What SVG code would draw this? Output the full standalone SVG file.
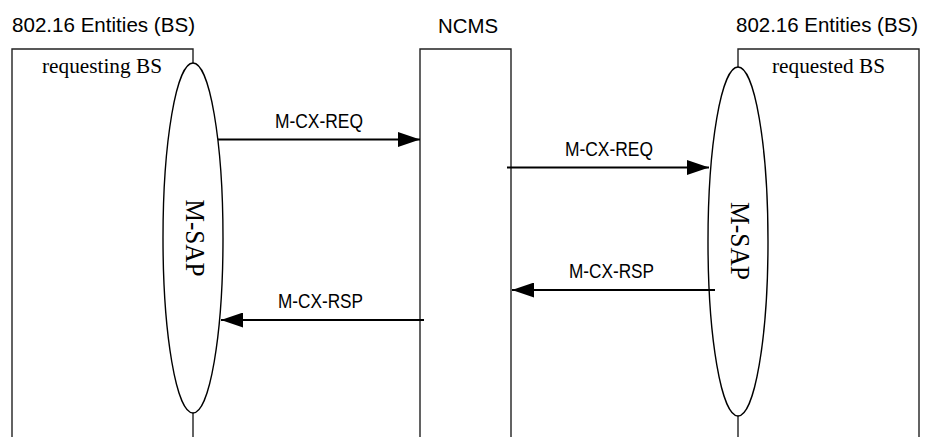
<svg xmlns="http://www.w3.org/2000/svg" width="927" height="437" viewBox="0 0 927 437">
<defs>
<style>
.hdr{font-family:"Liberation Sans",Arial,sans-serif;font-size:20.5px;fill:#000}
.ser{font-family:"Liberation Serif","Times New Roman",serif;font-size:21px;fill:#000}
.sap{font-family:"Liberation Serif","Times New Roman",serif;font-size:27px;fill:#000}
.lbl{font-family:"Liberation Sans",Arial,sans-serif;font-size:20px;fill:#000}
.box{fill:none;stroke:#222;stroke-width:1.4}
.ell{fill:#fff;stroke:#000;stroke-width:1.4}
.arr{stroke:#000;stroke-width:2.2;fill:none}
.head{fill:#000}
</style>
<marker id="ah" markerWidth="22" markerHeight="15" refX="22" refY="7.5" orient="auto" markerUnits="userSpaceOnUse">
<path d="M0,0 L22,7.5 L0,15 Z" class="head"/>
</marker>
</defs>
<rect width="927" height="437" fill="#fff"/>
<g id="requesting-bs">
<text class="hdr" x="12" y="32" textLength="183" lengthAdjust="spacingAndGlyphs">802.16 Entities (BS)</text>
<path class="box" d="M12,437 V49 H193 V437"/>
<text class="ser" x="42" y="73" textLength="120" lengthAdjust="spacingAndGlyphs">requesting BS</text>
<ellipse class="ell" cx="193" cy="238" rx="30" ry="175"/>
<text class="sap" transform="translate(186,238) rotate(90)" text-anchor="middle" textLength="77" lengthAdjust="spacingAndGlyphs">M-SAP</text>
</g>
<g id="ncms">
<text class="hdr" x="438" y="33" textLength="60" lengthAdjust="spacingAndGlyphs">NCMS</text>
<path class="box" d="M420,437 V49 H511 V437"/>
</g>
<g id="requested-bs">
<text class="hdr" x="736" y="32" textLength="182" lengthAdjust="spacingAndGlyphs">802.16 Entities (BS)</text>
<path class="box" d="M738,437 V49 H919 V437"/>
<text class="ser" x="772" y="73" textLength="113" lengthAdjust="spacingAndGlyphs">requested BS</text>
<ellipse class="ell" cx="738" cy="241.5" rx="30" ry="174.5"/>
<text class="sap" transform="translate(731,241) rotate(90)" text-anchor="middle" textLength="78" lengthAdjust="spacingAndGlyphs">M-SAP</text>
</g>
<g id="connectors">
<line class="arr" x1="218" y1="139.5" x2="420" y2="139.5" marker-end="url(#ah)"/>
<text class="lbl" x="275" y="128" textLength="88" lengthAdjust="spacingAndGlyphs">M-CX-REQ</text>
<line class="arr" x1="507" y1="167.5" x2="709" y2="167.5" marker-end="url(#ah)"/>
<text class="lbl" x="565" y="155.5" textLength="88" lengthAdjust="spacingAndGlyphs">M-CX-REQ</text>
<line class="arr" x1="715" y1="290" x2="512" y2="290" marker-end="url(#ah)"/>
<text class="lbl" x="569" y="278" textLength="85" lengthAdjust="spacingAndGlyphs">M-CX-RSP</text>
<line class="arr" x1="424" y1="320" x2="221" y2="320" marker-end="url(#ah)"/>
<text class="lbl" x="278" y="308" textLength="85" lengthAdjust="spacingAndGlyphs">M-CX-RSP</text>
</g>
</svg>
